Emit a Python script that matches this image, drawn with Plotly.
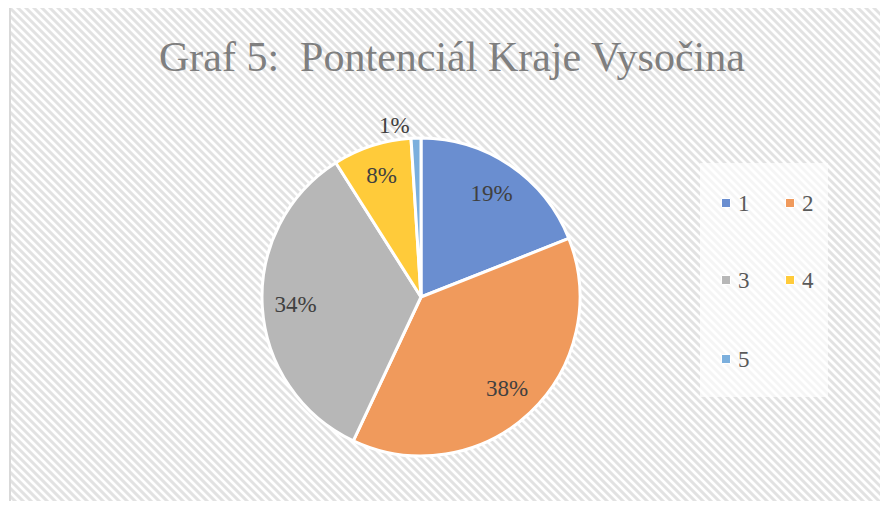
import plotly.graph_objects as go

# ---- data ----
categories = ["1", "2", "3", "4", "5"]
values = [19, 38, 34, 8, 1]
slice_colors = ["#6A8ED0", "#F09A5C", "#B7B7B7", "#FFCB3A", "#7BAFDD"]
title_text = "Graf 5:  Pontenciál Kraje Vysočina"

OFF = 8            # default page body margin
W, H = 888 - 2 * OFF, 509 - 2 * OFF
SERIF = "Liberation Serif"

def px(x):
    return (x - OFF) / W

def py(y):
    return 1 - (y - OFF) / H

pie_domain = dict(x=[px(262), px(580)], y=[py(456), py(138)])

fig = go.Figure()

# filled slices
fig.add_trace(go.Pie(
    labels=categories,
    values=values,
    sort=False,
    direction="clockwise",
    rotation=0,
    marker=dict(colors=slice_colors, line=dict(color="white", width=3)),
    textinfo="none",
    domain=pie_domain,
    showlegend=False,
    hoverinfo="skip",
))

# percentage labels (same pie, transparent, labels placed in outer ring)
fig.add_trace(go.Pie(
    labels=categories,
    values=values,
    sort=False,
    direction="clockwise",
    rotation=0,
    hole=0.58,
    marker=dict(colors=["rgba(0,0,0,0)"] * len(values), line=dict(width=0)),
    texttemplate="%{percent:.0%}",
    textposition="auto",
    insidetextorientation="horizontal",
    textfont=dict(family=SERIF, size=23, color="#404040"),
    outsidetextfont=dict(family=SERIF, size=23, color="#404040"),
    domain=pie_domain,
    showlegend=False,
    hoverinfo="skip",
))

shapes = []
# background hatch ("\" diagonal stripes) clipped to chart frame
x_left, x_right, y_top, y_bot = 10, 900, 7, 520
period = 8
x0 = x_left - (y_bot - y_top)
while x0 < x_right:
    ys = y_top
    xs = x0
    if xs < x_left:
        ys = y_top + (x_left - xs)
        xs = x_left
    ye = y_bot
    xe = x0 + (y_bot - y_top)
    if xe > x_right:
        ye = y_top + (x_right - x0)
        xe = x_right
    if ys < ye:
        shapes.append(dict(type="line", xref="paper", yref="paper",
                           x0=px(xs), y0=py(ys), x1=px(xe), y1=py(ye),
                           line=dict(color="#E2E2E2", width=3), layer="below"))
    x0 += period

# chart frame
shapes.append(dict(type="rect", xref="paper", yref="paper",
                   x0=px(10), y0=py(7), x1=px(905), y1=py(525),
                   line=dict(color="#D9D9D9", width=2), fillcolor="rgba(0,0,0,0)",
                   layer="below"))
# legend box
shapes.append(dict(type="rect", xref="paper", yref="paper",
                   x0=px(700), y0=py(397), x1=px(828), y1=py(163),
                   line=dict(width=0), fillcolor="rgba(255,255,255,0.65)",
                   layer="below"))

annotations = []
col_x = [726, 790]
row_y = [203, 280, 359]
for i, (cat, col) in enumerate(zip(categories, slice_colors)):
    cx = col_x[i % 2]
    cy = row_y[i // 2]
    shapes.append(dict(type="rect", xref="paper", yref="paper",
                       x0=px(cx - 4.5), y0=py(cy + 4.5), x1=px(cx + 4.5), y1=py(cy - 4.5),
                       line=dict(color="white", width=1), fillcolor=col, layer="above"))
    annotations.append(dict(text=cat, xref="paper", yref="paper",
                            x=px(cx + 10), y=py(cy), xanchor="left", yanchor="middle",
                            showarrow=False,
                            font=dict(family=SERIF, size=23, color="#595959")))

annotations.append(dict(text=title_text, xref="paper", yref="paper",
                        x=px(452), y=py(57), xanchor="center", yanchor="middle",
                        showarrow=False,
                        font=dict(family=SERIF, size=42, color="#7F7F7F")))

fig.update_layout(
    width=W, height=H,
    margin=dict(l=0, r=0, t=0, b=0),
    paper_bgcolor="white",
    plot_bgcolor="white",
    shapes=shapes,
    annotations=annotations,
    font=dict(family=SERIF),
)

fig.write_html("out.html")
